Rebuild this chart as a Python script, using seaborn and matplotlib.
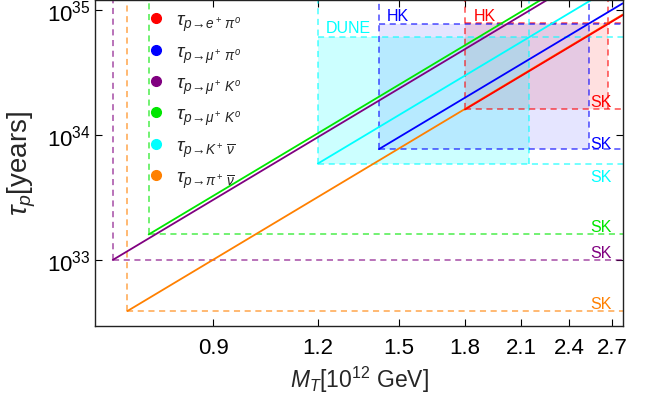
import matplotlib
matplotlib.use("Agg")
import matplotlib.pyplot as plt
from matplotlib.lines import Line2D
from matplotlib.ticker import NullLocator
import pandas as pd
import seaborn as sns

# %% data
channels = ["e+pi0", "mu+pi0", "mu+K0", "mu+K0 (2)", "K+nubar", "pi+nubar"]
labels = [r"$\tau_{p\!\to\! e^+\,\pi^o}$",
          r"$\tau_{p\!\to\! \mu^+\,\pi^o}$",
          r"$\tau_{p\!\to\! \mu^+\,K^o}$",
          r"$\tau_{p\!\to\! \mu^+\,K^o}$",
          r"$\tau_{p\!\to\! K^+\,\overline{\nu}}$",
          r"$\tau_{p\!\to\! \pi^+\,\overline{\nu}}$"]
colors = ["#ff0000", "#0000ff", "#800080", "#00e600", "#00ffff", "#ff8000"]

# Super-K bounds: start point of every line (M_T in 1e12 GeV, tau in years)
m_sk = [1.80, 1.42, 0.682, 0.753, 1.20, 0.710]
tau_sk = [1.6e34, 7.7e33, 1.0e33, 1.6e33, 5.9e33, 3.9e32]
# end of every line at the right edge
m_end = [2.78, 2.78, 2.78, 2.78, 2.78, 2.78]
tau_end = [9.1e34, 1.13e35, 2.77e35, 2.97e35, 1.70e35, 9.2e34]

# future experiments (HK, DUNE)
fut_names = ["HK", "HK", "DUNE"]
fut_channel = [0, 1, 4]
fut_m_max = [2.67, 2.53, 2.15]
fut_tau = [7.8e34, 7.7e34, 6.1e34]
fut_alpha = [0.12, 0.10, 0.20]

x_ticks = [0.9, 1.2, 1.5, 1.8, 2.1, 2.4, 2.7]
x_lim = (0.650, 2.78)
y_lim = (10**32.474, 10**35.08)

# %%
sns.set_style("ticks")
plt.rcParams["font.family"] = ["Liberation Sans", "DejaVu Sans"]
plt.rcParams["mathtext.fontset"] = "custom"
plt.rcParams["mathtext.rm"] = "Liberation Sans"
plt.rcParams["mathtext.it"] = "Liberation Sans:italic"
plt.rcParams["mathtext.bf"] = "Liberation Sans:bold"

fig = plt.figure(figsize=(6.55, 4.02), dpi=100)
ax = fig.add_axes([0.1455, 0.1873, 0.8052, 0.8102])
ax.set_xscale("log")
ax.set_yscale("log")

dash = (0, (4, 3))

# shaded regions for the future experiments
for name, ci, m1, tf, a in zip(fut_names, fut_channel, fut_m_max, fut_tau, fut_alpha):
    ax.fill_between([m_sk[ci], m1], tau_sk[ci], tf, color=colors[ci], alpha=a, lw=0)
    ax.hlines(tf, m_sk[ci], x_lim[1], colors=colors[ci], linestyles=dash, lw=1.1, alpha=0.7)
    ax.vlines(m1, tau_sk[ci], y_lim[1], colors=colors[ci], linestyles=dash, lw=1.1, alpha=0.7)

# Super-K bounds
for m, t, c in zip(m_sk, tau_sk, colors):
    ax.hlines(t, m, x_lim[1], colors=c, linestyles=dash, lw=1.1, alpha=0.7)
    ax.vlines(m, t, y_lim[1], colors=c, linestyles=dash, lw=1.1, alpha=0.7)

# tau ~ M^4 lines
df = pd.DataFrame({
    "channel": channels * 2,
    "M": m_sk + m_end,
    "tau": tau_sk + tau_end,
})
order = ["pi+nubar", "K+nubar", "mu+K0", "mu+K0 (2)", "mu+pi0", "e+pi0"]
sns.lineplot(data=df, x="M", y="tau", hue="channel", hue_order=order,
             palette=dict(zip(channels, colors)), estimator=None, sort=False,
             legend=False, lw=1.3, ax=ax)

# SK labels
sk_off = [0, -1.5, 0, 0, -4, 0]
for t, c, off in zip(tau_sk, colors, sk_off):
    ax.annotate("SK", (2.70, t), xytext=(0, off), textcoords="offset points",
                ha="right", va="bottom" if off > -3 else "top", color=c, fontsize=11.5)
fut_off = [0.5, 0.5, 1.5]
for name, ci, tf, off in zip(fut_names, fut_channel, fut_tau, fut_off):
    ax.annotate(name, (m_sk[ci], tf), xytext=(6, off), textcoords="offset points",
                ha="left", va="bottom", color=colors[ci], fontsize=11.5)

ax.set_xlim(x_lim)
ax.set_ylim(y_lim)
ax.set_xticks(x_ticks)
ax.set_xticklabels([f"{v:.1f}" for v in x_ticks])
ax.xaxis.set_minor_locator(NullLocator())
ax.yaxis.set_minor_locator(NullLocator())
ax.set_yticks([1e33, 1e34, 1e35])
ax.tick_params(direction="in", top=True, right=True, length=5, width=0.8,
               labelsize=16, colors="black")
ax.tick_params(axis="x", pad=8)
for s in ax.spines.values():
    s.set_color("#222222")
    s.set_linewidth(1.0)

ax.set_xlabel(r"$M_T$[10$^{12}$ GeV]", fontsize=16.5)
ax.set_ylabel(r"$\tau_p$[years]", fontsize=20, labelpad=6)

handles = [Line2D([], [], ls="", marker="o", markersize=7, color=c) for c in colors]
ax.legend(handles, labels, loc="upper left", bbox_to_anchor=(0.075, 1.0),
          frameon=False, fontsize=14, handlelength=1.0, handletextpad=0.5,
          labelspacing=0.5, borderaxespad=0.2)

fig.savefig("out.png", dpi=100)
